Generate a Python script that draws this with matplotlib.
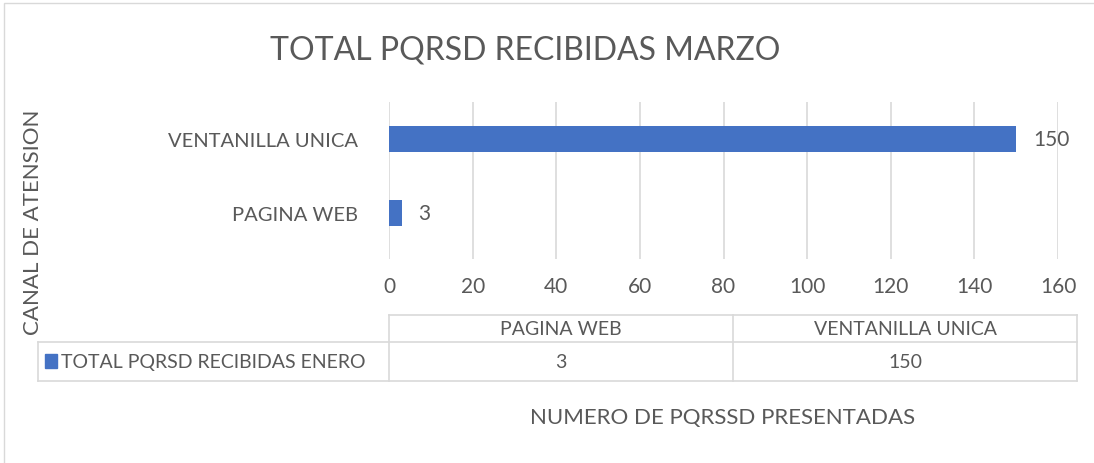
import matplotlib.pyplot as plt
from matplotlib.lines import Line2D
from matplotlib.patches import Rectangle

# datos del grafico
canales = ["PAGINA WEB", "VENTANILLA UNICA"]
totales = [3, 150]
serie = "TOTAL PQRSD RECIBIDAS ENERO"
titulo = "TOTAL PQRSD RECIBIDAS MARZO"
eje_x = "NUMERO DE PQRSSD PRESENTADAS"
eje_y = "CANAL DE ATENSION"
ticks_x = [0, 20, 40, 60, 80, 100, 120, 140, 160]

AZUL = "#4472C4"
GRIS = "#595959"
LINEA = "#D9D9D9"
W, H = 1094, 464

plt.rcParams['font.family'] = ['Lato', 'DejaVu Sans']


def fx(px):
    return px / W


def fy(py):
    return 1 - py / H


fig = plt.figure(figsize=(W / 100, H / 100), dpi=100)
fig.add_artist(Rectangle((fx(4), fy(1000)), 2, fy(4) - fy(1000), transform=fig.transFigure,
                         fill=False, edgecolor=LINEA, lw=1))

ax = fig.add_axes([fx(389), fy(260), fx(1058) - fx(389), fy(103) - fy(260)])
pos = list(range(len(canales)))
bars = ax.barh(pos, totales, height=0.34, color=AZUL, zorder=3)
for b, v in zip(bars, totales):
    ax.text(b.get_width() + 4, b.get_y() + b.get_height() / 2, str(v),
            va="center", ha="left", fontsize=15, color=GRIS)

ax.set_xlim(0, 160)
ax.set_ylim(-0.62, 1.5)
ax.set_xticks(ticks_x)
ax.set_xticklabels([str(t) for t in ticks_x], fontsize=15, color=GRIS)
ax.set_yticks(pos)
ax.set_yticklabels(canales, fontsize=14.5, color=GRIS)
ax.tick_params(length=0, pad=22, axis="y")
ax.tick_params(length=0, pad=12, axis="x")
ax.grid(axis="x", color=LINEA, lw=1.2, zorder=0)
for s in ax.spines.values():
    s.set_visible(False)

fig.text(fx(525), fy(50), titulo, ha="center", va="center", fontsize=23, color=GRIS)
fig.text(fx(723), fy(418), eje_x, ha="center", va="center", fontsize=16, color=GRIS)
fig.text(fx(33), fy(222), eje_y, ha="center", va="center", rotation=90, fontsize=16, color=GRIS)

# tabla de datos
x0, x1, xr = 38, 389, 1077
col_w = (xr - x1) / len(canales)
y_top, y_mid, y_bot = 316, 343, 382


def linea(xa, xb, ya, yb):
    fig.add_artist(Line2D([fx(xa), fx(xb)], [fy(ya), fy(yb)], transform=fig.transFigure,
                          color=LINEA, lw=1.2))


linea(x1, xr, y_top, y_top)
linea(x0, xr, y_mid, y_mid)
linea(x0, xr, y_bot, y_bot)
linea(x0, x0, y_mid, y_bot)
for i in range(len(canales) + 1):
    linea(x1 + i * col_w, x1 + i * col_w, y_top, y_bot)

for i, (c, v) in enumerate(zip(canales, totales)):
    cx = x1 + (i + 0.5) * col_w
    fig.text(fx(cx), fy((y_top + y_mid) / 2), c, ha="center", va="center", fontsize=14,
             color=GRIS)
    fig.text(fx(cx), fy((y_mid + y_bot) / 2), str(v), ha="center", va="center", fontsize=14,
             color=GRIS)

fig.add_artist(Rectangle((fx(45), fy(369)), fx(12), fy(355) - fy(369), transform=fig.transFigure,
                         color=AZUL))
fig.text(fx(61), fy((y_mid + y_bot) / 2), serie, ha="left", va="center", fontsize=14,
         color=GRIS)

fig.savefig("out.png", dpi=100, facecolor="white")
